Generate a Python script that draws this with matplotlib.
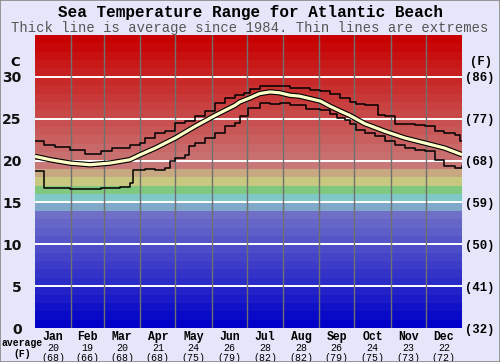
import numpy as np
import matplotlib
matplotlib.use("Agg")
import matplotlib.pyplot as plt
from matplotlib.patches import Rectangle

# day of year readings (C)
avg_days = [0, 13, 30, 47, 64, 81, 90, 103, 120, 137, 154, 171, 175, 184, 192, 201, 209, 218, 226, 235, 244, 252, 261, 269, 282, 299, 316, 333, 350, 365]
avg_vals = [20.5, 20.1, 19.7, 19.5, 19.7, 20.1, 20.7, 21.5, 22.7, 24.1, 25.4, 26.6, 27.0, 27.5, 28.0, 28.2, 28.1, 27.8, 27.7, 27.4, 27.1, 26.5, 25.9, 25.4, 24.4, 23.5, 22.7, 22.1, 21.5, 20.7]

max_days = [0, 8, 17, 30, 43, 51, 56, 66, 81, 90, 94, 103, 111, 120, 128, 137, 145, 154, 162, 171, 179, 184, 192, 201, 209, 218, 226, 235, 244, 252, 261, 269, 274, 282, 291, 293, 299, 308, 316, 325, 333, 342, 350, 359, 363, 365]
max_vals = [22.3, 21.9, 21.6, 21.3, 20.8, 20.8, 21.2, 21.5, 21.9, 22.1, 22.7, 23.3, 23.5, 24.5, 24.7, 25.3, 25.9, 26.9, 27.5, 27.8, 28.1, 28.6, 28.9, 28.9, 28.9, 28.7, 28.7, 28.4, 28.3, 28.0, 27.5, 27.0, 26.8, 26.6, 26.6, 25.4, 25.3, 24.4, 24.4, 24.3, 24.1, 23.5, 23.3, 23.1, 22.3, 22.3]

min_days = [0, 8, 30, 56, 73, 81, 84, 94, 103, 111, 115, 120, 128, 132, 137, 145, 154, 162, 171, 175, 182, 192, 201, 209, 218, 226, 232, 244, 252, 258, 265, 269, 274, 282, 291, 299, 308, 316, 325, 333, 342, 350, 359, 365]
min_vals = [18.7, 16.7, 16.6, 16.7, 16.9, 17.3, 18.9, 19.0, 18.9, 19.1, 19.9, 20.3, 20.7, 21.7, 22.1, 22.7, 23.3, 24.1, 24.5, 25.3, 26.3, 26.9, 26.8, 26.9, 26.6, 26.6, 26.2, 26.0, 25.6, 25.1, 24.9, 24.4, 23.6, 23.3, 22.9, 22.3, 21.9, 21.5, 21.3, 21.1, 20.1, 19.3, 19.1, 19.3]

months = ["Jan", "Feb", "Mar", "Apr", "May", "Jun", "Jul", "Aug", "Sep", "Oct", "Nov", "Dec"]
month_c = [20, 19, 20, 21, 24, 26, 28, 28, 26, 24, 23, 22]
month_f = [68, 66, 68, 68, 75, 79, 82, 82, 79, 75, 73, 72]
month_len = [31, 28, 31, 30, 31, 30, 31, 31, 30, 31, 30, 31]
c_ticks = [0, 5, 10, 15, 20, 25, 30]
f_ticks = [32, 41, 50, 59, 68, 77, 86]

mono = "Liberation Mono"
bg = "#e6e6fa"


def band_color(i):
    fixed = {14: (128, 168, 200), 15: (128, 200, 200), 16: (128, 200, 128),
             17: (200, 200, 128), 18: (200, 168, 128)}
    if i in fixed:
        r, g, b = fixed[i]
    elif i < 14:
        r = g = 8.5 * i
        b = 200
    else:
        r = 200
        g = b = 120 * (34 - i) / 15
    return (r / 255, g / 255, b / 255)


fig = plt.figure(figsize=(5, 3.62), dpi=100, facecolor=bg)
ax = fig.add_axes([35 / 500, 34 / 362, 427 / 500, 293 / 362])

for i in range(35):
    ax.axhspan(i, i + 1, color=band_color(i), lw=0, zorder=0)

for t in c_ticks[1:]:
    ax.axhline(t, color="white", lw=1.4, zorder=1)

edges = np.cumsum(month_len)
for e in edges[:-1]:
    ax.axvline(e, color="#707070", lw=1.0, zorder=1, snap=True)

ax.plot(max_days, max_vals, drawstyle="steps-post", color="black", lw=1.1, zorder=3)
ax.plot(min_days, min_vals, drawstyle="steps-post", color="black", lw=1.1, zorder=3)
ax.plot(avg_days, avg_vals, color="black", lw=3.9, solid_capstyle="butt", zorder=4)
ax.plot(avg_days, avg_vals, color="#ffffc8", lw=2.3, solid_capstyle="butt", zorder=5)

ax.set_xlim(0, 365)
ax.set_ylim(0, 35)
for s in ax.spines.values():
    s.set_visible(False)

ax.set_yticks(c_ticks)
ax.set_yticklabels([str(t) for t in c_ticks], fontsize=10, fontweight="bold", color="#111111")
ax.tick_params(axis="y", length=0, pad=9.5)
ax.set_xticks([])

ax2 = ax.twinx()
ax2.set_ylim(0, 35)
ax2.set_yticks(c_ticks)
ax2.set_yticklabels(["(%d)" % f for f in f_ticks], fontsize=8.8, fontweight="bold", family=mono)
ax2.tick_params(axis="y", length=0, pad=2)
for s in ax2.spines.values():
    s.set_visible(False)

centers = edges - np.array(month_len) / 2
for x, m, c, f in zip(centers, months, month_c, month_f):
    ax.text(x, -0.4, m, ha="center", va="top", fontsize=8.3, fontweight="bold", family=mono)
    ax.text(x, -1.75, str(c), ha="center", va="top", fontsize=7.2, family=mono)
    ax.text(x, -2.95, "(%d)" % f, ha="center", va="top", fontsize=7.2, family=mono)

fig.text(22 / 500, 1 - 343 / 362, "average", ha="center", va="center", fontsize=7, fontweight="bold", family=mono)
fig.text(22 / 500, 1 - 354 / 362, "(F)", ha="center", va="center", fontsize=7, fontweight="bold", family=mono)
fig.text(15 / 500, 1 - 62 / 362, "C", ha="center", va="center", fontsize=9.5, fontweight="bold", family="DejaVu Sans")
fig.text(481 / 500, 1 - 62 / 362, "(F)", ha="center", va="center", fontsize=8.8, fontweight="bold", family=mono)

fig.text(0.5, 1 - 13 / 362, "Sea Temperature Range for Atlantic Beach", ha="center", va="center",
         fontsize=11.5, fontweight="bold", family=mono)
fig.text(0.5, 1 - 28 / 362, "Thick line is average since 1984. Thin lines are extremes", ha="center", va="center",
         fontsize=10, family=mono, color="#555555")

fig.patches.append(Rectangle((0, 0), 1, 1, transform=fig.transFigure, fill=False,
                             edgecolor="#888888", lw=1.2, figure=fig))

fig.savefig("out.png", dpi=100, facecolor=bg)
